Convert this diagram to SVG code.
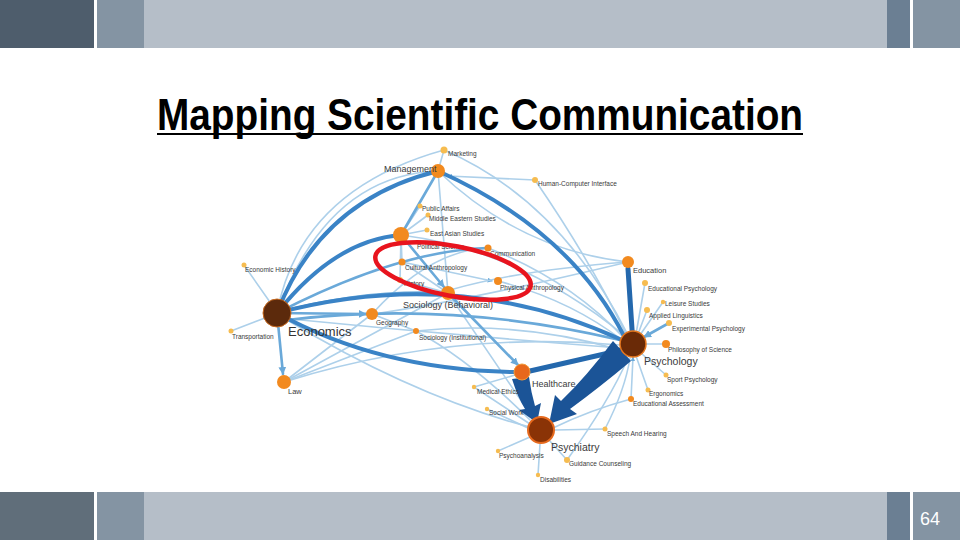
<svg xmlns="http://www.w3.org/2000/svg" width="960" height="540" viewBox="0 0 960 540">
<defs>
<style>
.lt{fill:none;stroke:#add0ea;stroke-width:1.6;stroke-linecap:round}
.md{fill:none;stroke:#6aa9d9;stroke-width:2.6;stroke-linecap:round}
.dk{fill:none;stroke:#3a83c6;stroke-width:4;stroke-linecap:round}
.vd{fill:none;stroke:#2468ad;stroke-width:5;stroke-linecap:round}
.big{fill:#6a2a07;stroke:#e4761e;stroke-width:1.5}
.org{fill:#f28a1f}
.sm{fill:#f6bc50}
.lb{font-family:"Liberation Sans",Arial,sans-serif;fill:#3a3a3a;font-size:6.5px}
.lm{font-family:"Liberation Sans",Arial,sans-serif;fill:#3a3a3a;font-size:9px}
.lL{font-family:"Liberation Sans",Arial,sans-serif;fill:#333;font-size:13px}
</style>
<marker id="ah" viewBox="0 0 10 10" refX="9" refY="5" markerWidth="3" markerHeight="3" orient="auto"><path d="M0,0L10,5L0,10z" fill="#6aa9d9"/></marker>
</defs>
<rect width="960" height="540" fill="#fff"/>
<g id="header">
<rect x="0" y="0" width="94" height="48" fill="#4e5d6c"/>
<rect x="97" y="0" width="47" height="48" fill="#8494a3"/>
<rect x="144" y="0" width="743" height="48" fill="#b5bec8"/>
<rect x="887" y="0" width="23" height="48" fill="#6b7f93"/>
<rect x="913" y="0" width="47" height="48" fill="#8494a3"/>
</g>
<g id="footer">
<rect x="0" y="492" width="94" height="48" fill="#606e7a"/>
<rect x="97" y="492" width="47" height="48" fill="#8494a3"/>
<rect x="144" y="492" width="743" height="48" fill="#b5bec8"/>
<rect x="887" y="492" width="23" height="48" fill="#6b7f93"/>
<rect x="913" y="492" width="47" height="48" fill="#8494a3"/>
<text x="930" y="525" text-anchor="middle" font-family="Liberation Sans,Arial,sans-serif" font-size="18" fill="#fff">64</text>
</g>
<g id="title">
<text x="157" y="130" font-family="Liberation Sans,Arial,sans-serif" font-size="44" font-weight="bold" fill="#000" textLength="646" lengthAdjust="spacingAndGlyphs">Mapping  Scientific  Communication</text>
<rect x="157" y="133" width="646" height="2" fill="#000"/>
</g>
<g id="connectors">
<path class="lt" d="M277,313 Q300,190 444,150"/>
<path class="lt" d="M280,305 Q330,175 438,171"/>
<path class="lt" d="M444,150 Q560,200 628,335"/>
<path class="lt" d="M444,150 L438,171"/>
<path class="lt" d="M535,180 L448,176" marker-end="url(#ah)"/>
<path class="lt" d="M535,180 Q590,260 626,334"/>
<path class="lt" d="M438,171 L448,293"/>
<path class="lt" d="M438,171 Q520,250 628,262"/>
<path class="lt" d="M401,235 L420,206"/>
<path class="lt" d="M401,235 L428,215"/>
<path class="lt" d="M401,235 L427,230"/>
<path class="lt" d="M401,235 L402,262"/>
<path class="lt" d="M401,235 L400,280"/>
<path class="lt" d="M401,235 Q520,250 625,336"/>
<path class="lt" d="M488,248 Q570,280 624,338"/>
<path class="lt" d="M402,262 L492,281" marker-end="url(#ah)"/>
<path class="lt" d="M498,281 Q570,300 622,340"/>
<path class="lt" d="M402,262 L448,293"/>
<path class="lt" d="M400,280 L448,293"/>
<path class="lt" d="M244,265 L272,305"/>
<path class="lt" d="M231,331 L265,318"/>
<path class="lt" d="M284,382 L372,314"/>
<path class="lt" d="M284,382 L448,293"/>
<path class="lt" d="M284,382 Q450,330 620,345"/>
<path class="lt" d="M284,382 L416,331"/>
<path class="lt" d="M280,318 Q450,335 620,348"/>
<path class="lt" d="M372,314 L416,331"/>
<path class="lt" d="M416,331 Q520,320 620,350"/>
<path class="lt" d="M372,314 Q430,250 488,248"/>
<path class="lt" d="M448,293 L541,430"/>
<path class="lt" d="M416,331 Q470,360 530,420"/>
<path class="lt" d="M628,262 Q520,270 450,290"/>
<path class="lt" d="M645,283 L636,334"/>
<path class="lt" d="M663,302 L640,335"/>
<path class="lt" d="M647,310 L638,334"/>
<path class="lt" d="M666,344 L646,344"/>
<path class="lt" d="M666,375 L642,354"/>
<path class="lt" d="M648,390 L636,356"/>
<path class="lt" d="M631,399 L633,357" marker-end="url(#ah)"/>
<path class="lt" d="M631,399 Q590,410 553,428"/>
<path class="lt" d="M605,429 L555,430"/>
<path class="lt" d="M605,429 Q625,390 630,358"/>
<path class="lt" d="M567,460 L549,440"/>
<path class="lt" d="M567,460 Q610,400 628,358"/>
<path class="lt" d="M474,387 L530,424"/>
<path class="lt" d="M474,387 L515,375"/>
<path class="lt" d="M487,409 L528,428"/>
<path class="lt" d="M498,451 L530,437"/>
<path class="lt" d="M538,475 L540,444"/>
<path class="lt" d="M628,262 Q470,300 380,313"/>
<path class="lt" d="M287,320 Q420,400 541,430"/>
<path class="md" d="M277,313 L366,314" marker-end="url(#ah)"/>
<path class="md" d="M277,313 Q360,290 441,293"/>
<path class="md" d="M277,313 L283,374" marker-end="url(#ah)"/>
<path class="md" d="M438,171 L405,228"/>
<path class="md" d="M401,235 L444,287" marker-end="url(#ah)"/>
<path class="md" d="M448,293 L518,365" marker-end="url(#ah)"/>
<path class="md" d="M669,323 L644,337" marker-end="url(#ah)"/>
<path class="md" d="M277,313 Q400,250 488,248"/>
<path class="md" d="M287,320 Q450,300 620,340"/>
<path class="dk" d="M277,313 Q320,200 438,171"/>
<path class="dk" d="M277,313 Q335,240 401,235"/>
<path class="dk" d="M277,313 Q460,265 622,340"/>
<path class="dk" d="M277,313 Q380,370 514,372"/>
<path class="dk" d="M438,171 Q570,230 624,336"/>
<path class="vd" d="M633,344 L628,269"/>
<path class="vd" d="M622,350 L530,371"/>
<path d="M613,341 Q587,376 561,401 L555,395 L549,424 L577,414 L570,409 Q600,387 631,361 Z" fill="#1b5497"/>
<path d="M512,379 Q518,398 525,409 L519,410 L537,423 L541,403 L535,406 Q531,392 529,377 Z" fill="#1b5497"/>
</g>
<g id="nodes">
<g id="n-marketing"><circle cx="444" cy="150" r="3.5" class="sm"/><text x="448" y="156" class="lb">Marketing</text></g>
<g id="n-management"><circle cx="438" cy="171" r="7" class="org"/><text x="384" y="172" class="lm">Management</text></g>
<g id="n-hci"><circle cx="535" cy="180" r="3" class="sm"/><text x="538" y="186" class="lb">Human-Computer Interface</text></g>
<g id="n-publicaffairs"><circle cx="420" cy="206" r="2.5" class="sm"/><text x="422" y="211" class="lb">Public Affairs</text></g>
<g id="n-mideast"><circle cx="428" cy="215" r="2.5" class="sm"/><text x="429" y="221" class="lb">Middle Eastern Studies</text></g>
<g id="n-eastasia"><circle cx="427" cy="230" r="2.5" class="sm"/><text x="430" y="236" class="lb">East Asian Studies</text></g>
<g id="n-polsci"><circle cx="401" cy="235" r="8" class="org"/><text x="417" y="249" class="lb">Political Science</text></g>
<g id="n-communication"><circle cx="488" cy="248" r="3.5" class="org"/><text x="490" y="256" class="lb">Communication</text></g>
<g id="n-cultanthro"><circle cx="402" cy="262" r="3.5" class="org"/><text x="405" y="270" class="lb">Cultural Anthropology</text></g>
<g id="n-history"><circle cx="400" cy="280" r="3" class="sm"/><text x="404" y="286" class="lb">History</text></g>
<g id="n-physanthro"><circle cx="498" cy="281" r="4" class="org"/><text x="500" y="290" class="lb">Physical Anthropology</text></g>
<g id="n-socbeh"><circle cx="448" cy="293" r="7" class="org"/><text x="403" y="308" class="lm">Sociology (Behavioral)</text></g>
<g id="n-econhist"><circle cx="244" cy="265" r="2.5" class="sm"/><text x="245" y="272" class="lb">Economic History</text></g>
<g id="n-economics"><circle cx="277" cy="313" r="14" fill="#5c2a0c" stroke="#c8691e" stroke-width="1"/><text x="288" y="336" class="lL">Economics</text></g>
<g id="n-geography"><circle cx="372" cy="314" r="6" class="org"/><text x="376" y="325" class="lb">Geography</text></g>
<g id="n-socinst"><circle cx="416" cy="331" r="3" class="org"/><text x="419" y="340" class="lb">Sociology (Institutional)</text></g>
<g id="n-transport"><circle cx="231" cy="331" r="2.5" class="sm"/><text x="232" y="339" class="lb">Transportation</text></g>
<g id="n-law"><circle cx="284" cy="382" r="7" class="org"/><text x="288" y="394" class="lb" style="font-size:7.5px">Law</text></g>
<g id="n-education"><circle cx="628" cy="262" r="6" class="org"/><text x="633" y="273" class="lb" style="font-size:7.5px">Education</text></g>
<g id="n-edpsych"><circle cx="645" cy="283" r="3" class="sm"/><text x="648" y="291" class="lb">Educational Psychology</text></g>
<g id="n-leisure"><circle cx="663" cy="302" r="2.2" class="sm"/><text x="665" y="306" class="lb">Leisure Studies</text></g>
<g id="n-applling"><circle cx="647" cy="310" r="3" class="sm"/><text x="649" y="318" class="lb">Applied Linguistics</text></g>
<g id="n-exppsych"><circle cx="669" cy="323" r="3" class="sm"/><text x="672" y="331" class="lb">Experimental Psychology</text></g>
<g id="n-psychology"><circle cx="633" cy="344" r="13" class="big"/><text x="644" y="365" class="lm" style="font-size:10.5px">Psychology</text></g>
<g id="n-philsci"><circle cx="666" cy="344" r="4" class="org"/><text x="668" y="352" class="lb">Philosophy of Science</text></g>
<g id="n-sportpsych"><circle cx="666" cy="375" r="2.5" class="sm"/><text x="667" y="382" class="lb">Sport Psychology</text></g>
<g id="n-ergonomics"><circle cx="648" cy="390" r="2.5" class="sm"/><text x="649" y="396" class="lb">Ergonomics</text></g>
<g id="n-edassess"><circle cx="631" cy="399" r="3" class="org"/><text x="633" y="406" class="lb">Educational Assessment</text></g>
<g id="n-healthcare"><circle cx="522" cy="372" r="8" fill="#e8681c" stroke="#f29a3a" stroke-width="1"/><text x="532" y="387" class="lm">Healthcare</text></g>
<g id="n-medethics"><circle cx="474" cy="387" r="2.2" class="sm"/><text x="477" y="394" class="lb">Medical Ethics</text></g>
<g id="n-socialwork"><circle cx="487" cy="409" r="2.2" class="sm"/><text x="489" y="415" class="lb">Social Work</text></g>
<g id="n-psychiatry"><circle cx="541" cy="430" r="13" fill="#8a3306" stroke="#e66a1e" stroke-width="2"/><text x="551" y="451" class="lm" style="font-size:10.5px">Psychiatry</text></g>
<g id="n-speech"><circle cx="605" cy="429" r="2.5" class="sm"/><text x="607" y="436" class="lb">Speech And Hearing</text></g>
<g id="n-psychoanalysis"><circle cx="498" cy="451" r="2.2" class="sm"/><text x="499" y="458" class="lb">Psychoanalysis</text></g>
<g id="n-guidance"><circle cx="567" cy="460" r="3" class="sm"/><text x="569" y="466" class="lb">Guidance Counseling</text></g>
<g id="n-disabilities"><circle cx="538" cy="475" r="2.2" class="sm"/><text x="540" y="482" class="lb">Disabilities</text></g>
</g>
<g id="highlight">
<ellipse cx="453" cy="271" rx="79" ry="25" transform="rotate(11 453 271)" fill="none" stroke="#e8141e" stroke-width="4.5"/>
</g>
</svg>
